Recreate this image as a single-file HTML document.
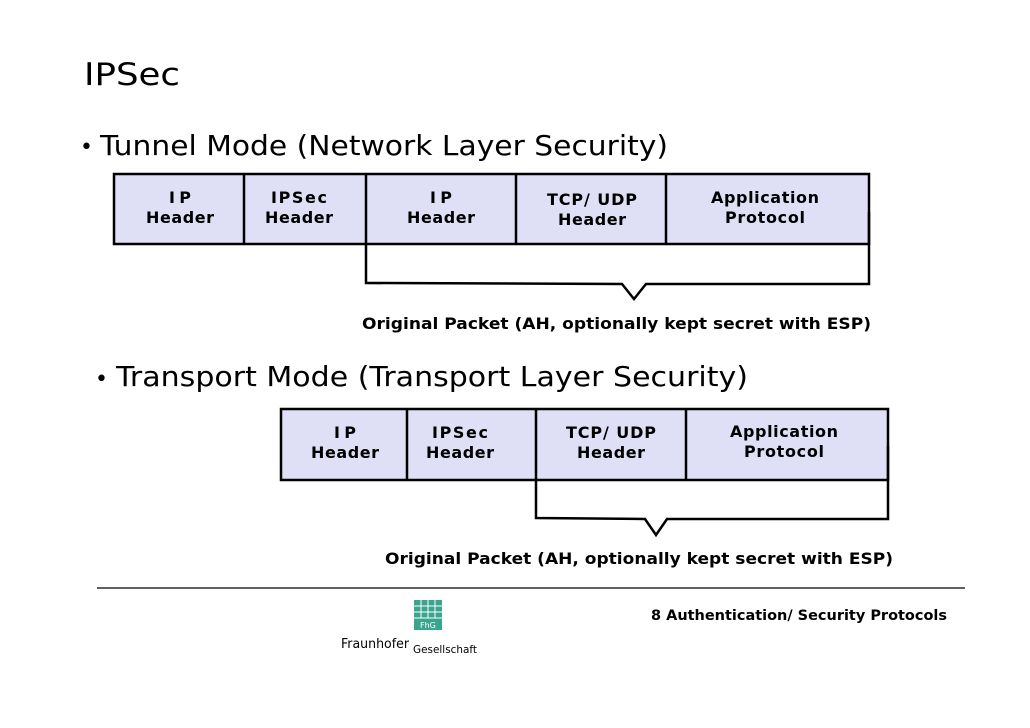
<!DOCTYPE html>
<html><head><meta charset="utf-8"><style>
html,body{margin:0;padding:0;background:#fff;width:1030px;height:728px;overflow:hidden}
svg text{font-family:"DejaVu Sans","Liberation Sans",sans-serif;fill:#000}
.b{font-weight:bold;font-size:16px}
</style></head><body>
<svg width="1030" height="728" viewBox="0 0 1030 728" xmlns="http://www.w3.org/2000/svg">
<text x="84" y="85" font-size="31" textLength="96" lengthAdjust="spacingAndGlyphs">IPSec</text>
<text x="80" y="154" font-size="22">•</text>
<text x="100" y="155" font-size="28" textLength="568" lengthAdjust="spacingAndGlyphs">Tunnel Mode (Network Layer Security)</text>

<g stroke="#000" stroke-width="2.5" fill="#dfdff5">
<rect x="114" y="174" width="755" height="70"/>
</g>
<g stroke="#000" stroke-width="2.5">
<line x1="244" y1="174" x2="244" y2="244"/><line x1="366" y1="174" x2="366" y2="244"/>
<line x1="516" y1="174" x2="516" y2="244"/><line x1="666" y1="174" x2="666" y2="244"/>
</g>
<polyline points="366,244 366,283 622,284 634,299 646,284 869,284 869,212" fill="none" stroke="#000" stroke-width="2.5"/>
<g class="b" text-anchor="middle">
<text x="180" y="203" textLength="22">IP</text><text x="180" y="223" textLength="68">Header</text>
<text x="299" y="203" textLength="56">IPSec</text><text x="299" y="223" textLength="68">Header</text>
<text x="441" y="203" textLength="22">IP</text><text x="441" y="223" textLength="68">Header</text>
<text x="592" y="205" textLength="90">TCP/ UDP</text><text x="592" y="225" textLength="68">Header</text>
<text x="765" y="203" textLength="108">Application</text><text x="765" y="223" textLength="80">Protocol</text>
</g>
<text class="b" x="362" y="329" textLength="509" lengthAdjust="spacingAndGlyphs">Original Packet (AH, optionally kept secret with ESP)</text>

<text x="95" y="386" font-size="22">•</text>
<text x="116" y="386" font-size="28" textLength="632" lengthAdjust="spacingAndGlyphs">Transport Mode (Transport Layer Security)</text>

<rect x="281" y="409" width="607" height="71" fill="#dfdff5" stroke="#000" stroke-width="2.5"/>
<g stroke="#000" stroke-width="2.5">
<line x1="407" y1="409" x2="407" y2="480"/><line x1="536" y1="409" x2="536" y2="480"/>
<line x1="686" y1="409" x2="686" y2="480"/>
</g>
<polyline points="536,480 536,518 645,519 656,535 667,519 888,519 888,446" fill="none" stroke="#000" stroke-width="2.5"/>
<g class="b" text-anchor="middle">
<text x="345" y="438" textLength="22">IP</text><text x="345" y="458" textLength="68">Header</text>
<text x="460" y="438" textLength="56">IPSec</text><text x="460" y="458" textLength="68">Header</text>
<text x="611" y="438" textLength="90">TCP/ UDP</text><text x="611" y="458" textLength="68">Header</text>
<text x="784" y="437" textLength="108">Application</text><text x="784" y="457" textLength="80">Protocol</text>
</g>
<text class="b" x="385" y="564" textLength="508" lengthAdjust="spacingAndGlyphs">Original Packet (AH, optionally kept secret with ESP)</text>

<line x1="97" y1="588" x2="965" y2="588" stroke="#000" stroke-width="1.2"/>
<text x="651" y="620" font-size="14" font-weight="bold" textLength="296" lengthAdjust="spacingAndGlyphs">8 Authentication/ Security Protocols</text>
<rect x="414" y="600" width="28" height="30" fill="#3aa58e"/>
<g stroke="#fff" stroke-width="1">
<line x1="414" y1="606" x2="442" y2="606"/><line x1="414" y1="612" x2="442" y2="612"/><line x1="414" y1="618" x2="442" y2="618"/>
<line x1="421" y1="600" x2="421" y2="618"/><line x1="428" y1="600" x2="428" y2="618"/><line x1="435" y1="600" x2="435" y2="618"/>
</g>
<text x="420" y="628" font-size="8" style="fill:#fff">FhG</text>
<text x="341" y="648" font-size="13" font-family="Liberation Sans" textLength="68" lengthAdjust="spacingAndGlyphs">Fraunhofer</text>
<text x="413" y="653" font-size="11" font-family="Liberation Sans" textLength="64" lengthAdjust="spacingAndGlyphs">Gesellschaft</text>
</svg>
</body></html>
